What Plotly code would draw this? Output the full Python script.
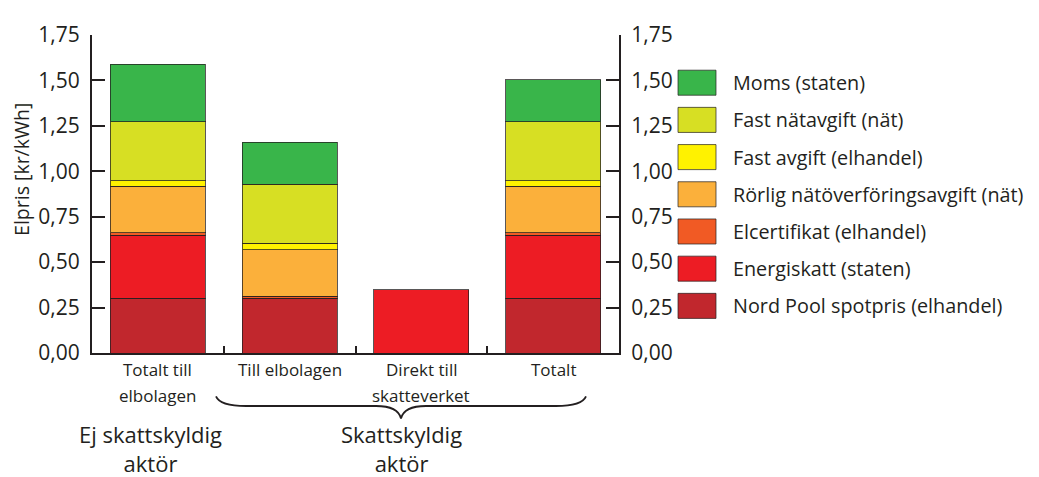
import plotly.graph_objects as go

# ---------------- data ----------------
category_lines = [["Totalt till", "elbolagen"], ["Till elbolagen"], ["Direkt till", "skatteverket"], ["Totalt"]]
categories = [" ".join(c) for c in category_lines]

series_names = [
    "Nord Pool spotpris (elhandel)",
    "Energiskatt (staten)",
    "Elcertifikat (elhandel)",
    "Rörlig nätöverföringsavgift (nät)",
    "Fast avgift (elhandel)",
    "Fast nätavgift (nät)",
    "Moms (staten)",
]
nordpool = [0.300, 0.300, None, 0.300]
energiskatt = [0.347, None, 0.347, 0.347]
elcertifikat = [0.016, 0.013, None, 0.016]
rorlig = [0.254, 0.255, None, 0.254]
fast_avgift = [0.030, 0.035, None, 0.030]
fast_natavgift = [0.325, 0.325, None, 0.325]
moms = [0.318, 0.231, None, 0.232]
series_values = [nordpool, energiskatt, elcertifikat, rorlig, fast_avgift, fast_natavgift, moms]
series_colors = ["#C1272D", "#ED1C24", "#F15A24", "#FBB03B", "#FFF200", "#D7DF23", "#39B54A"]

tick_vals = [0, 0.25, 0.5, 0.75, 1.0, 1.25, 1.5, 1.75]
tick_text = ["0,00", "0,25", "0,50", "0,75", "1,00", "1,25", "1,50", "1,75"]

group_labels = [("Ej skattskyldig<br>aktör", 150), ("Skattskyldig<br>aktör", 401)]

# ---------------- layout helpers ----------------
W, H = 1039, 477
OFF = 8  # page body margin
L, T = 92 - OFF, 23 - OFF
R = W - (619 - OFF)
B = H - (353 - OFF)
PW, PH = W - L - R, H - T - B
FONT = "Open Sans"
INK = "#231F20"


def xp(px):  # screen x -> paper
    return (px - OFF - L) / PW


def yp(py):  # screen y -> paper
    return (H - B - (py - OFF)) / PH


fig = go.Figure()
for name, vals, col in zip(series_names, series_values, series_colors):
    fig.add_trace(go.Bar(
        x=categories, y=vals, name=name, width=0.72,
        marker=dict(color=col, line=dict(color="rgba(35,31,32,0.75)", width=1)),
        showlegend=False, hoverinfo="name+y",
    ))
# invisible trace to hold the right axis
fig.add_trace(go.Scatter(x=categories, y=[None] * 4, yaxis="y2", showlegend=False, hoverinfo="skip"))

axis_common = dict(
    range=[0, 1.75], tickvals=tick_vals, ticktext=tick_text,
    ticks="inside", ticklen=13, tickwidth=2, tickcolor=INK,
    showline=True, linecolor=INK, linewidth=2, showgrid=False, zeroline=False,
    tickfont=dict(family=FONT, size=21, color=INK), ticklabelstandoff=6,
)
fig.update_layout(
    width=W, height=H, margin=dict(l=L, r=R, t=T, b=B),
    barmode="stack", plot_bgcolor="white", paper_bgcolor="white",
    font=dict(family=FONT, color=INK),
    xaxis=dict(
        categoryorder="array", categoryarray=categories, range=[-0.5, 3.5],
        showline=True, linecolor=INK, linewidth=2, showticklabels=False,
        ticks="inside", tickson="boundaries", ticklen=7, tickwidth=1.5, tickcolor=INK,
        showgrid=False, zeroline=False,
    ),
    yaxis=dict(side="left", **axis_common),
    yaxis2=dict(side="right", overlaying="y", **axis_common),
)

annotations = []
# y-axis title
annotations.append(dict(
    text="Elpris [kr/kWh]", xref="paper", yref="paper", x=xp(22), y=yp(163),
    textangle=-90, showarrow=False, font=dict(family=FONT, size=19.5, color=INK),
    xanchor="center", yanchor="middle",
))
# category labels (each line placed separately for wider leading)
for cat, lines in zip(categories, category_lines):
    for j, line in enumerate(lines):
        annotations.append(dict(
            text=line, xref="x", yref="paper", x=cat, y=yp(370 + 27 * j),
            showarrow=False, font=dict(family=FONT, size=17, color=INK),
            xanchor="center", yanchor="middle",
        ))
# group labels
for text, cx in group_labels:
    annotations.append(dict(
        text=text, xref="paper", yref="paper", x=xp(cx), y=yp(452),
        showarrow=False, font=dict(family=FONT, size=22, color=INK),
        xanchor="center", yanchor="middle",
    ))

shapes = []
# curly brace under the taxable group
x0, x1, xm = 216, 586, 401
ytop, ymid, ytip = 398, 408, 421
pts = (
    f"M {xp(x0)},{yp(ytop)} "
    f"Q {xp(x0 + 4)},{yp(ymid)} {xp(x0 + 30)},{yp(ymid)} "
    f"L {xp(xm - 25)},{yp(ymid)} "
    f"Q {xp(xm - 3)},{yp(ymid)} {xp(xm)},{yp(ytip)} "
    f"Q {xp(xm + 3)},{yp(ymid)} {xp(xm + 25)},{yp(ymid)} "
    f"L {xp(x1 - 30)},{yp(ymid)} "
    f"Q {xp(x1 - 4)},{yp(ymid)} {xp(x1)},{yp(ytop)}"
)
shapes.append(dict(type="path", path=pts, xref="paper", yref="paper",
                   line=dict(color=INK, width=1.8)))

# manual legend (top-to-bottom = reverse stacking order)
for i, (name, col) in enumerate(zip(series_names[::-1], series_colors[::-1])):
    top = 59.5 + 38.6 * i
    shapes.append(dict(type="rect", xref="paper", yref="paper",
                       x0=xp(678), x1=xp(716), y0=yp(top + 26), y1=yp(top),
                       fillcolor=col, line=dict(color="rgba(35,31,32,0.7)", width=1)))
    annotations.append(dict(
        text=name, xref="paper", yref="paper", x=xp(731), y=yp(top + 13),
        showarrow=False, font=dict(family=FONT, size=19.8, color=INK),
        xanchor="left", yanchor="middle",
    ))

fig.update_layout(annotations=annotations, shapes=shapes)
fig.write_html("out.html")
